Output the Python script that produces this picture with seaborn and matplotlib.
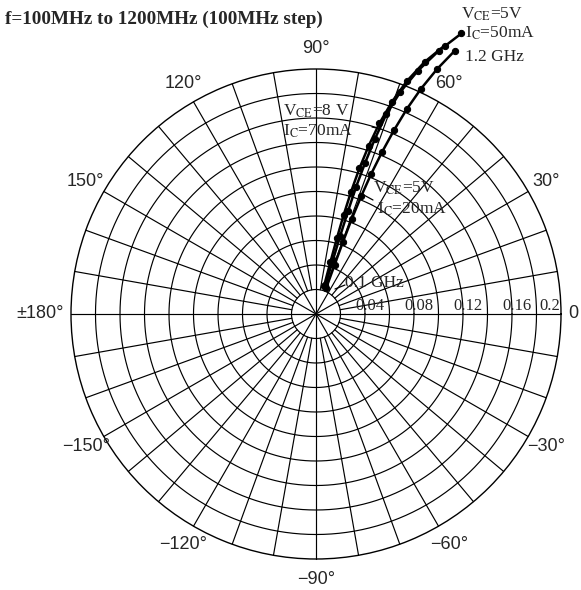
import numpy as np
import pandas as pd
import matplotlib.pyplot as plt
import seaborn as sns

# S12 polar plot, f = 100MHz .. 1200MHz
freq_ghz = [0.1, 0.2, 0.3, 0.4, 0.5, 0.6, 0.7, 0.8, 0.9, 1.0, 1.1, 1.2]

mag_5v_50ma = [0.025, 0.046, 0.067, 0.088, 0.109, 0.130, 0.151, 0.173, 0.194, 0.215, 0.237, 0.258]
ang_5v_50ma = [72.0, 72.6, 72.8, 72.7, 72.5, 72.0, 71.4, 70.6, 69.2, 67.3, 65.0, 62.6]

mag_8v_70ma = [0.024, 0.044, 0.064, 0.084, 0.104, 0.124, 0.144, 0.164, 0.184, 0.204, 0.224, 0.243]
ang_8v_70ma = [74.0, 74.5, 74.6, 74.4, 74.0, 73.4, 72.6, 71.6, 70.3, 68.7, 66.7, 64.4]

mag_5v_20ma = [0.023, 0.043, 0.063, 0.083, 0.103, 0.123, 0.143, 0.163, 0.183, 0.203, 0.223, 0.243]
ang_5v_20ma = [68.5, 69.3, 69.5, 69.4, 69.0, 68.5, 67.8, 67.0, 66.1, 65.0, 63.7, 62.2]

ring_ticks = [0.04, 0.08, 0.12, 0.16, 0.2]
angle_ticks = [90, 60, 30, 0, -30, -60, -90, -120, -150, 180, 150, 120]
angle_labels = ['90°', '60°', '30°', '0', '−30°', '−60°', '−90°', '−120°', '−150°', '±180°', '150°', '120°']

rows = []
for name, mag, ang in [('5V50mA', mag_5v_50ma, ang_5v_50ma),
                       ('8V70mA', mag_8v_70ma, ang_8v_70ma),
                       ('5V20mA', mag_5v_20ma, ang_5v_20ma)]:
    for f, m, a in zip(freq_ghz, mag, ang):
        rows.append({'bias': name, 'freq': f, 'r': m, 'theta': np.deg2rad(a)})
df = pd.DataFrame(rows)

sns.set_style("white")
plt.rcParams['mathtext.fontset'] = 'stix'

fig = plt.figure(figsize=(5.81, 5.9), dpi=100)
ax = fig.add_axes([71 / 581, 31 / 590, 490 / 581, 490 / 590], projection='polar')
ax.set_ylim(0, 0.2)
ax.grid(False)
ax.set_xticks([])
ax.set_yticks([])
ax.spines['polar'].set_linewidth(1.0)
ax.spines['polar'].set_color('black')

# grid: rings every 0.02, spokes every 10 deg
t = np.linspace(0, 2 * np.pi, 361)
for rr in np.arange(0.02, 0.2, 0.02):
    ax.plot(t, np.full_like(t, rr), color='black', lw=0.85)
for d in range(0, 360, 10):
    start = 0.0 if d % 30 == 0 else 0.02
    ax.plot([np.deg2rad(d)] * 2, [start, 0.2], color='black', lw=0.85)

sns.lineplot(data=df, x='theta', y='r', hue='bias', palette=['black'] * 3,
             sort=False, estimator=None, marker='o', markersize=4.5,
             markeredgecolor='black', linewidth=1.8, legend=False, ax=ax)
for ln in ax.lines:
    ln.set_clip_on(False)
ax.set_xlabel('')
ax.set_ylabel('')

# angle labels
for d, lab in zip(angle_ticks, angle_labels):
    th = np.deg2rad(d)
    if d == 0:
        ax.text(th, 0.206, lab, ha='left', va='center', fontsize=13, family='Liberation Sans')
    elif d == 180:
        ax.text(th, 0.206, lab, ha='right', va='center', fontsize=13, family='Liberation Sans')
    else:
        ax.text(th, 0.217, lab, ha='center', va='center', fontsize=13, family='Liberation Sans')

# radius labels along 0 deg
for v in ring_ticks:
    pos = v + 0.004 if v < 0.2 else 0.199
    ha = 'center' if v < 0.2 else 'right'
    ax.text(0, pos, f'{v:g}', ha=ha, va='bottom', fontsize=12, family='Liberation Serif')

fig.text(5 / 581, 1 - 19 / 590, 'f=100MHz to 1200MHz (100MHz step)', ha='left', va='center',
         fontsize=13.8, fontweight='bold', family='Liberation Serif')

ann = dict(fontsize=12.5, family='Liberation Serif', ha='left', va='center')
fig.text(461 / 581, 1 - 14 / 590, r'V$_{\rm CE}$=5V', **ann)
fig.text(465 / 581, 1 - 33 / 590, r'I$_{\rm C}$=50mA', **ann)
fig.text(465 / 581, 1 - 57 / 590, '1.2 GHz', **ann)
fig.text(283 / 581, 1 - 111 / 590, r'V$_{\rm CE}$=8 V', **ann)
fig.text(283 / 581, 1 - 131 / 590, r'I$_{\rm C}$=70mA', **ann)
fig.text(373 / 581, 1 - 188 / 590, r'V$_{\rm CE}$=5V', **ann)
fig.text(377 / 581, 1 - 209 / 590, r'I$_{\rm C}$=20mA', **ann)
fig.text(345 / 581, 1 - 283 / 590, '0.1 GHz', **ann)

# short leader lines
for (x0, y0), (x1, y1) in [((372, 127), (381, 129)), ((373, 200), (362, 194)),
                           ((345, 285), (335, 289))]:
    fig.add_artist(plt.Line2D([x0 / 581, x1 / 581], [1 - y0 / 590, 1 - y1 / 590],
                              color='black', lw=0.9))

fig.savefig('out.png', dpi=100)
